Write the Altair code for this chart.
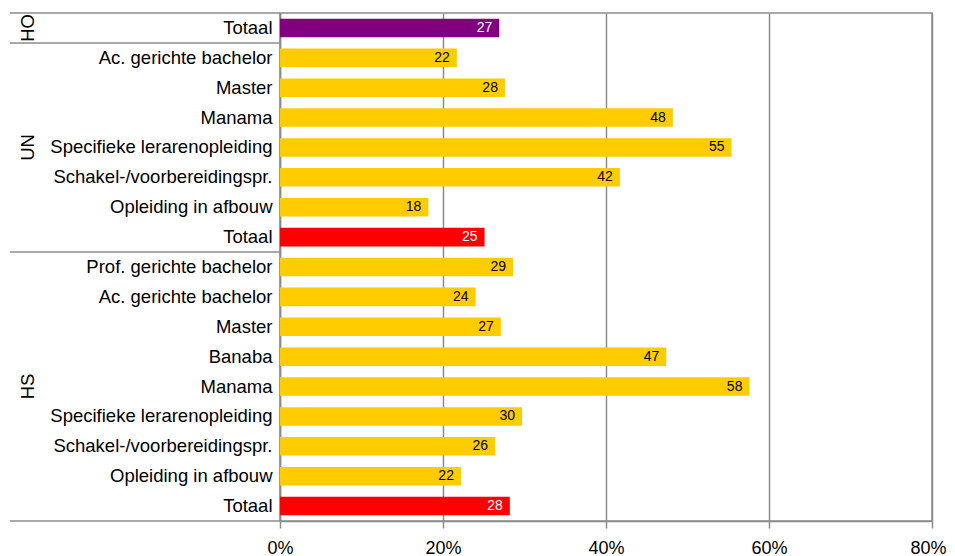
import altair as alt
import pandas as pd

groups = ["HO"] + ["UN"] * 7 + ["HS"] * 9
labels = [
    "Totaal",
    "Ac. gerichte bachelor", "Master", "Manama", "Specifieke lerarenopleiding",
    "Schakel-/voorbereidingspr.", "Opleiding in afbouw", "Totaal",
    "Prof. gerichte bachelor", "Ac. gerichte bachelor", "Master", "Banaba", "Manama",
    "Specifieke lerarenopleiding", "Schakel-/voorbereidingspr.", "Opleiding in afbouw", "Totaal",
]
values = [26.9, 21.7, 27.6, 48.2, 55.4, 41.7, 18.2, 25.1,
          28.6, 24.0, 27.1, 47.4, 57.6, 29.7, 26.4, 22.2, 28.2]
x_ticks = [0, 20, 40, 60, 80]

keys = [f"{i:02d}|{lab}" for i, lab in enumerate(labels)]
kinds = ["HO" if g == "HO" else ("tot" if lab == "Totaal" else "item")
         for g, lab in zip(groups, labels)]
df = pd.DataFrame({"key": keys, "label": labels, "group": groups,
                   "value": values, "kind": kinds})

# group structure derived from the group list
grp_names = []
for g in groups:
    if g not in grp_names:
        grp_names.append(g)
first_idx = [groups.index(g) for g in grp_names]
last_idx = [len(groups) - 1 - groups[::-1].index(g) for g in grp_names]
center_idx = [(a + b) // 2 for a, b in zip(first_idx, last_idx)]
grp_df = pd.DataFrame({"group": grp_names, "key": [keys[i] for i in center_idx]})
top_df = pd.DataFrame({"key": [keys[i] for i in first_idx]})
bot_df = pd.DataFrame({"key": [keys[last_idx[-1]]]})

FONT = "Liberation Sans"
GRAY = "#8c8c8c"

y_enc = alt.Y("key:N", sort=keys, scale=alt.Scale(paddingInner=0, paddingOuter=0),
              axis=alt.Axis(title=None, labelExpr="split(datum.label, '|')[1]",
                            ticks=False, labelPadding=8, labelFontSize=18.5,
                            labelFont=FONT, labelColor="black", labelLimit=400,
                            domainColor=GRAY, domainWidth=1.5, grid=False))
x_enc = alt.X("value:Q", scale=alt.Scale(domain=[0, 80]),
              axis=alt.Axis(title=None, values=x_ticks, labelExpr="datum.value + '%'",
                            grid=True, gridColor=GRAY, gridWidth=1.5,
                            tickColor=GRAY, tickWidth=1.5, tickSize=7,
                            domainColor=GRAY, domainWidth=1.5, labelFlush=False,
                            labelOffset={"condition": {"test": "datum.value == 80", "value": -4},
                                         "value": 0},
                            labelPadding=11, labelFontSize=18, labelFont=FONT,
                            labelColor="black"))

bars = alt.Chart(df).mark_bar(height=alt.RelativeBandSize(0.62)).encode(
    x=x_enc, y=y_enc,
    color=alt.Color("kind:N", scale=alt.Scale(domain=["HO", "tot", "item"],
                                              range=["#800080", "#FF0000", "#FFCC00"]),
                    legend=None),
)

txt = alt.Chart(df).mark_text(align="right", baseline="middle", dx=-7,
                              fontSize=14, font=FONT).encode(
    x="value:Q", y=alt.Y("key:N", sort=keys),
    text=alt.Text("value:Q", format=".0f"),
    color=alt.condition("datum.kind != 'item'", alt.value("white"), alt.value("black")),
)

sep_top = alt.Chart(top_df).mark_rule(color=GRAY, strokeWidth=1.5).encode(
    y=alt.Y("key:N", sort=keys, bandPosition=0),
    x=alt.value(-270), x2=alt.value(0),
)
sep_bot = alt.Chart(bot_df).mark_rule(color=GRAY, strokeWidth=1.5).encode(
    y=alt.Y("key:N", sort=keys, bandPosition=1),
    x=alt.value(-270), x2=alt.value(0),
)

grp_txt = alt.Chart(grp_df).mark_text(angle=270, fontSize=18.5, font=FONT,
                                      color="black", align="center",
                                      baseline="middle").encode(
    y=alt.Y("key:N", sort=keys), x=alt.value(-252), text="group:N",
)

chart = alt.layer(bars, txt, sep_top, sep_bot, grp_txt).properties(
    width=652, height=508,
    autosize=alt.AutoSizeParams(type="none"),
    padding={"left": 272, "top": 5, "right": 15, "bottom": 35},
).configure_view(stroke=GRAY, strokeWidth=1.5)

chart.save("out.html", embed_options={"renderer": "svg", "actions": False})
